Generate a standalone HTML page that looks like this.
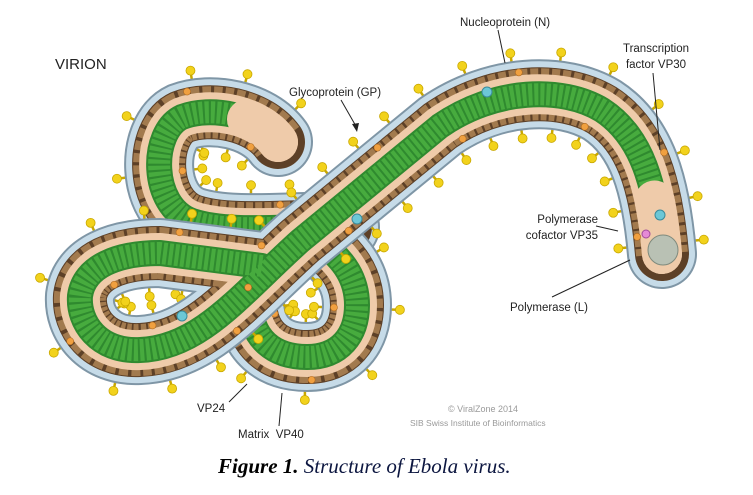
<!DOCTYPE html>
<html><head><meta charset="utf-8">
<style>
html,body{margin:0;padding:0;background:#fff;}
body{width:753px;height:495px;overflow:hidden;position:relative;font-family:"Liberation Sans",sans-serif;}
svg{position:absolute;left:0;top:0;}
.lbl{font-family:"Liberation Sans",sans-serif;font-size:11.5px;fill:#222;}
</style></head>
<body>
<svg id="s" width="753" height="495" viewBox="0 0 753 495" xmlns="http://www.w3.org/2000/svg">
<defs>
<path id="pA" d="M 278,142 C 258,114 210,106 182,117 C 150,132 150,206 192,221 C 232,234 290,225 345,227"/>
<path id="pC" d="M 250,300 C 250,340 275,357 307,357 C 340,357 357,335 357,305 C 357,280 345,260 320,242"/>
<path id="pB" d="M 662,254 C 656,185 642,136 602,110 C 562,86 495,88 440,126 L 300,241 C 240,295 200,348 140,350 C 98,352 78,322 80,296 C 84,266 118,253 160,253 L 262,266"/>
</defs>
<g id="tube"></g>
<g font-family="Liberation Sans, sans-serif">
<text x="55" y="69" font-size="15" fill="#222">VIRION</text>
<text class="lbl" x="289" y="96">Glycoprotein (GP)</text>
<line x1="341" y1="100" x2="357" y2="128" stroke="#222" stroke-width="1"/>
<polygon points="357,132 352,124 359,123" fill="#222"/>
<text class="lbl" x="460" y="26">Nucleoprotein (N)</text>
<line x1="498" y1="30" x2="505" y2="63" stroke="#222" stroke-width="1"/>
<text class="lbl" x="656" y="52" text-anchor="middle">Transcription</text>
<text class="lbl" x="656" y="68" text-anchor="middle">factor VP30</text>
<line x1="653" y1="73" x2="660" y2="150" stroke="#222" stroke-width="1"/>
<text class="lbl" x="598" y="223" text-anchor="end">Polymerase</text>
<text class="lbl" x="598" y="239" text-anchor="end">cofactor VP35</text>
<line x1="596" y1="226" x2="618" y2="231" stroke="#222" stroke-width="1"/>
<text class="lbl" x="510" y="311">Polymerase (L)</text>
<line x1="552" y1="297" x2="630" y2="260" stroke="#222" stroke-width="1"/>
<text class="lbl" x="197" y="412">VP24</text>
<line x1="229" y1="402" x2="247" y2="384" stroke="#222" stroke-width="1"/>
<text class="lbl" x="238" y="438">Matrix&#160; VP40</text>
<line x1="279" y1="426" x2="282" y2="393" stroke="#222" stroke-width="1"/>
<text x="448" y="412" font-size="9" fill="#9a9a9a">© ViralZone 2014</text>
<text x="410" y="426" font-size="8.5" fill="#9a9a9a">SIB Swiss Institute of Bioinformatics</text>
</g>
<text x="218" y="473" font-family="Liberation Serif, serif" font-size="21" font-style="italic" fill="#0c1640"><tspan font-weight="bold" fill="#000">Figure 1.</tspan> Structure of Ebola virus.</text>
</svg>
<script>
(function(){
var NS="http://www.w3.org/2000/svg";
var g=document.getElementById('tube');
function el(n,a,p){var e=document.createElementNS(NS,n);for(var k in a)e.setAttribute(k,a[k]);(p||g).appendChild(e);return e;}
var layers=[
 {w:70,c:"#7f96a6"},{w:66,c:"#c6dbe8"},{w:54,c:"#5d4027"},
 {w:52,c:"#a27a4e",d:"7 2.5"},{w:40,c:"#efcbaa"},{w:26,c:"#2f8a2f"},{w:22,c:"#47ab3e",d:"4 2"}];
var capLen={pA:40,pB:55,pC:0};
["pA","pC","pB"].forEach(function(id){
  var grp=el('g',{});
  var p=document.getElementById(id);
  var L=p.getTotalLength();
  for(var s=10;s<L;s+=40){
    var a=p.getPointAtLength(s),b=p.getPointAtLength(Math.min(L,s+1));
    var dx=b.x-a.x,dy=b.y-a.y,n=Math.hypot(dx,dy)||1;var nx=-dy/n,ny=dx/n;
    [1,-1].forEach(function(sg){
      var x1=a.x+nx*sg*33,y1=a.y+ny*sg*33,x2=a.x+nx*sg*41,y2=a.y+ny*sg*41;
      el('line',{x1:x1,y1:y1,x2:x2,y2:y2,stroke:"#c9a800","stroke-width":2.5},grp);
      el('circle',{cx:x2+nx*sg*2,cy:y2+ny*sg*2,r:4.5,fill:"#f2d21c",stroke:"#c9a800","stroke-width":0.8},grp);
    });
  }
  layers.forEach(function(l){
    var u=el('use',{href:"#"+id,fill:"none",stroke:l.c,"stroke-width":l.w,"stroke-linecap":"round","stroke-linejoin":"round"},grp);
    u.setAttributeNS("http://www.w3.org/1999/xlink","xlink:href","#"+id);
    if(l.d){u.setAttribute("stroke-dasharray",l.d);u.setAttribute("stroke-linecap","butt");}
  });
  var cl=capLen[id];
  if(cl>0){
    var pts=[];for(var t=0;t<=cl;t+=3){var q=p.getPointAtLength(t);pts.push(q.x.toFixed(1)+","+q.y.toFixed(1));}
    el('polyline',{points:pts.join(" "),fill:"none",stroke:"#efcbaa","stroke-width":40,"stroke-linecap":"round","stroke-linejoin":"round"},grp);
  }
  for(var s=20;s<L;s+=75){
    var a=p.getPointAtLength(s),b=p.getPointAtLength(Math.min(L,s+1));
    var dx=b.x-a.x,dy=b.y-a.y,n=Math.hypot(dx,dy)||1;var nx=-dy/n,ny=dx/n;
    var sg=(Math.floor(s/75)%2)?1:-1;
    el('circle',{cx:a.x+nx*sg*23,cy:a.y+ny*sg*23,r:3.5,fill:"#f0a040",stroke:"#b06a20","stroke-width":0.6},grp);
  }
});
el('circle',{cx:663,cy:250,r:15,fill:"#b9c1b4",stroke:"#7f8a7d","stroke-width":1});
el('circle',{cx:646,cy:234,r:4,fill:"#e58ad6",stroke:"#a04a9a","stroke-width":1});
[[660,215],[487,92],[357,219],[182,316]].forEach(function(c){el('circle',{cx:c[0],cy:c[1],r:5,fill:"#6cc7d6",stroke:"#3a8a9a","stroke-width":1});});
})();
</script>
</body></html>
